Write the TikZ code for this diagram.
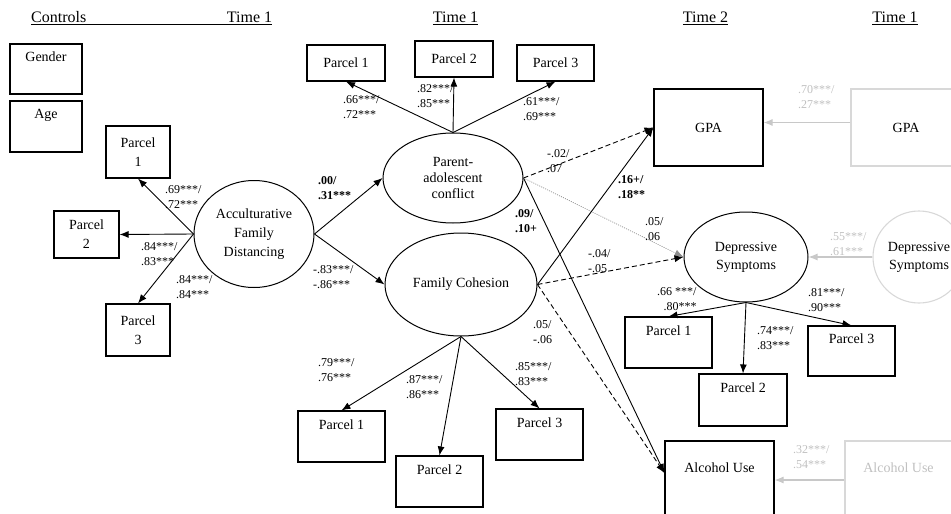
\documentclass[tikz,border=0pt]{standalone}
\usepackage{fontspec}
\setmainfont{Liberation Serif}
\usetikzlibrary{arrows.meta,shapes.geometric}
\newcommand\mainfs{\fontsize{14}{19}\selectfont}
\newcommand\lblfs{\fontsize{12}{15}\selectfont}
\newcommand\hdrfs{\fontsize{16}{19}\selectfont}
\definecolor{gline}{HTML}{D8D8D8}
\definecolor{garrow}{HTML}{C8C8C8}
\definecolor{gtext}{HTML}{C0C0C0}
\begin{document}
\begin{tikzpicture}[x=1pt,y=-1pt,
  every node/.style={font=\mainfs},
  box/.style={draw, line width=1.1pt, rectangle, inner sep=0pt, align=center},
  gbox/.style={draw=gline, line width=1.1pt, rectangle, inner sep=0pt, align=center},
  lat/.style={draw, line width=1pt, ellipse, inner sep=0pt, align=center},
  arr/.style={-{Latex[length=9pt,width=7pt]}, line width=0.9pt},
  dsh/.style={dash pattern=on 5pt off 3pt},
  dotarr/.style={-{Latex[length=9pt,width=7pt]}, line width=0.7pt, draw=gray!90, dash pattern=on 1pt off 1.2pt},
  garr/.style={-{Latex[length=9pt,width=7pt]}, line width=1.1pt, draw=garrow},
  lbl/.style={font=\lblfs, anchor=west, align=left, inner sep=0pt},
  glbl/.style={lbl, text=gtext},
  hdr/.style={font=\hdrfs, inner sep=0pt}
]
\useasboundingbox (0,0) rectangle (951,514);

% headers
\node[hdr, anchor=west] (hctl) at (31,18) {\underline{\hbox to 241pt{Controls\hfil Time 1}}};
\node[hdr] (ht1) at (455.5,18) {\underline{Time 1}};
\node[hdr] (ht2) at (705.5,18) {\underline{Time 2}};
\node[hdr] (ht3) at (895,18) {\underline{Time 1}};

% controls
\node[box, minimum width=72, minimum height=50] (gender) at (46,69) {Gender\\\strut};
\node[box, minimum width=72, minimum height=51] (age) at (46,126.5) {Age\\\strut};

% acculturative family distancing
\node[lat, minimum width=120, minimum height=107] (afd) at (254,234) {Acculturative\\Family\\Distancing};
\node[box, minimum width=64, minimum height=52] (ap1) at (138,152) {Parcel\\1};
\node[box, minimum width=65, minimum height=47] (ap2) at (86.5,234.5) {Parcel\\2};
\node[box, minimum width=64, minimum height=52] (ap3) at (138,330) {Parcel\\3};

% parent-adolescent conflict
\node[lat, minimum width=140, minimum height=90, font=\fontsize{14}{16}\selectfont] (pac) at (453,178) {Parent-\\adolescent\\conflict};
\node[box, minimum width=78, minimum height=36] (tp1) at (346,63) {Parcel 1};
\node[box, minimum width=78, minimum height=36] (tp2) at (454,59) {Parcel 2};
\node[box, minimum width=77, minimum height=36] (tp3) at (555.5,63) {Parcel 3};

% family cohesion
\node[lat, minimum width=152, minimum height=103] (fc) at (461,284.5) {Family Cohesion};
\node[box, minimum width=87, minimum height=51] (fp1) at (341.5,436.5) {Parcel 1\\\strut};
\node[box, minimum width=87, minimum height=51] (fp2) at (439.5,481.5) {Parcel 2\\\strut};
\node[box, minimum width=87, minimum height=51] (fp3) at (539.5,434.5) {Parcel 3\\\strut};

% outcomes time 2
\node[box, minimum width=109, minimum height=77] (gpa) at (708.5,127.5) {GPA};
\node[lat, minimum width=124, minimum height=90, font=\fontsize{14}{18}\selectfont] (ds) at (746,257) {Depressive\\Symptoms};
\node[box, minimum width=87, minimum height=51] (dp1) at (668.5,342.5) {Parcel 1\\\strut};
\node[box, minimum width=88, minimum height=52] (dp2) at (743,400) {Parcel 2\\\strut};
\node[box, minimum width=87, minimum height=50] (dp3) at (851.5,351) {Parcel 3\\\strut};
\node[box, minimum width=109, minimum height=78] (au) at (719.5,480) {Alcohol Use\\\strut};

% time 1 outcomes (grey)
\node[gbox, minimum width=110, minimum height=77] (ggpa) at (906,127.5) {GPA};
\node[draw=gline, line width=1.1pt, circle, minimum size=92, inner sep=0pt, align=center, font=\fontsize{14}{18}\selectfont] (gds) at (919,257) {Depressive\\Symptoms};
\node[gbox, minimum width=107, minimum height=78, text=gtext] (gau) at (898.5,480) {Alcohol Use\\\strut};

% measurement arrows
\draw[arr] (afd.west) -- (ap1.south);
\draw[arr] (afd.west) -- (ap2.east);
\draw[arr] (afd.west) -- (ap3.north);
\draw[arr] (pac.north) -- (tp1.south);
\draw[arr] (pac.north) -- (tp2.south);
\draw[arr] (pac.north) -- (tp3.south);
\draw[arr] (fc.south) -- (fp1.north);
\draw[arr] (fc.south) -- (fp2.north);
\draw[arr] (fc.south) -- (fp3.north);
\draw[arr] (ds.south) -- (dp1.north);
\draw[arr] (ds.south) -- (dp2.north);
\draw[arr] (ds.south) -- (dp3.north);

% structural arrows
\draw[arr] (afd.east) -- (pac.west);
\draw[arr] (afd.east) -- (fc.west);
\draw[arr, dsh] (pac.east) -- (gpa.west);
\draw[arr] (pac.east) -- ([yshift=7pt]au.west);
\draw[dotarr] (pac.east) -- (ds.west);
\draw[arr] (fc.east) -- (gpa.west);
\draw[arr, dsh] (fc.east) -- (ds.west);
\draw[arr, dsh] (fc.east) -- ([yshift=7pt]au.west);

% grey stability arrows
\draw[garr] ([yshift=5pt]ggpa.west) -- ([yshift=5pt]gpa.east);
\draw[garr] (gds.west) -- (ds.east);
\draw[garr] (gau.west) -- (au.east);

% labels
\node[lbl] (l1) at (165,197) {.69***/\\.72***};
\node[lbl] (l2) at (141,254) {.84***/\\.83***};
\node[lbl] (l3) at (176,287.5) {.84***/\\.84***};
\node[lbl] (l4) at (343,107.5) {.66***/\\.72***};
\node[lbl] (l5) at (417,96.5) {.82***/\\.85***};
\node[lbl] (l6) at (523,109.5) {.61***/\\.69***};
\node[lbl] (l7) at (318,188) {\textbf{.00/}\\\textbf{.31***}};
\node[lbl] (l8) at (313,277.5) {-.83***/\\-.86***};
\node[lbl] (l9) at (515,221) {\textbf{.09/}\\\textbf{.10+}};
\node[lbl] (l10) at (547,161.5) {-.02/\\.07};
\node[lbl] (l11) at (618,187.5) {\textbf{.16+/}\\\textbf{.18**}};
\node[lbl] (l12) at (645,229.5) {.05/\\.06};
\node[lbl] (l13) at (588,261.5) {-.04/\\-.05};
\node[lbl] (l14) at (533,332.5) {.05/\\-.06};
\node[lbl] (l15) at (318,370) {.79***/\\.76***};
\node[lbl] (l16) at (406,387.5) {.87***/\\.86***};
\node[lbl] (l17) at (515,374) {.85***/\\.83***};
\node[lbl, align=right] (l18) at (657,299) {.66 ***/\\.80***};
\node[lbl] (l19) at (757,338) {.74***/\\.83***};
\node[lbl] (l20) at (808,300) {.81***/\\.90***};
\node[glbl] (l21) at (798,97) {.70***/\\.27***};
\node[glbl] (l22) at (830,244) {.55***/\\.61***};
\node[glbl] (l23) at (793,457.5) {.32***/\\.54***};
\end{tikzpicture}
\end{document}
